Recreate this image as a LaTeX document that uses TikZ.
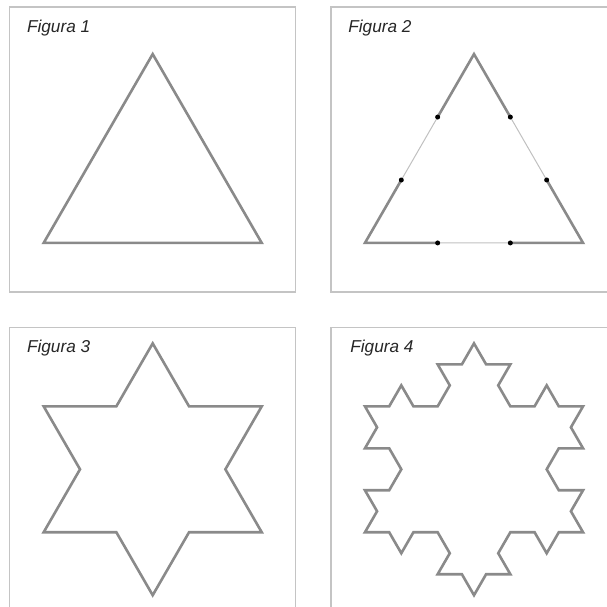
\documentclass[tikz,border=0pt]{standalone}
\usepackage{fontspec}
\setmainfont{Liberation Sans}
\usetikzlibrary{calc}
\definecolor{framegray}{RGB}{196,196,196}
\definecolor{curvegray}{RGB}{138,138,138}
\definecolor{thirdgray}{RGB}{192,192,192}

\begin{document}
\begin{tikzpicture}[x=.5pt,y=.5pt,
  frame/.style={draw=framegray,line width=.8pt},
  curve/.style={draw=curvegray,line width=1.3pt},
  middlethird/.style={draw=thirdgray,line width=.5pt},
  lbl/.style={anchor=base west,inner sep=0pt,font=\fontsize{8.6}{10}\selectfont\itshape,text=black!85}]
  \useasboundingbox (0,0) rectangle (607,607);
  \clip (0,0) rectangle (607,607);

  \begin{scope}[shift={(9.7,600)}]
    \draw[frame] (0,0) rectangle (286,-285);
    \node[lbl] (fig1) at (17,-25.3) {Figura 1};
    \coordinate (c1) at (143,-173);
    \coordinate (a1) at ($(c1)+(210:125.9)$);
    \coordinate (b1) at ($(c1)+(90:125.9)$);
    \coordinate (d1) at ($(c1)+(330:125.9)$);
    \draw[curve] (a1) -- (b1) -- (d1) -- cycle;
  \end{scope}

  \begin{scope}[shift={(331,600)}]
    \draw[frame] (0,0) rectangle (286,-285);
    \node[lbl] (fig2) at (17,-25.3) {Figura 2};
    \coordinate (c2) at (143,-173);
    \coordinate (a2) at ($(c2)+(210:125.9)$);
    \coordinate (b2) at ($(c2)+(90:125.9)$);
    \coordinate (d2) at ($(c2)+(330:125.9)$);
    \coordinate (ab1) at ($(a2)!1/3!(b2)$);
    \coordinate (ab2) at ($(a2)!2/3!(b2)$);
    \coordinate (bd1) at ($(b2)!1/3!(d2)$);
    \coordinate (bd2) at ($(b2)!2/3!(d2)$);
    \coordinate (da1) at ($(d2)!1/3!(a2)$);
    \coordinate (da2) at ($(d2)!2/3!(a2)$);
    \draw[middlethird] (a2) -- (b2) -- (d2) -- cycle;
    \draw[curve] (da2) -- (a2) -- (ab1) (ab2) -- (b2) -- (bd1) (bd2) -- (d2) -- (da1);
    \foreach \p in {ab1,ab2,bd1,bd2,da1,da2}
      \fill (\p) circle (2.5);
  \end{scope}

  \begin{scope}[shift={(9.7,279.7)}]
    \draw[frame] (0,0) rectangle (286,-285);
    \node[lbl] (fig3) at (17,-25.3) {Figura 3};
    \coordinate (c3) at (143,-142);
    \coordinate (a3) at ($(c3)+(210:125.9)$);
    \draw[curve] (a3) \foreach \b in {60,-60,180} {\foreach \a in {0,60,-60,0} {-- ++({\b+\a}:72.69)}} -- cycle;
  \end{scope}

  \begin{scope}[shift={(331,279.7)}]
    \draw[frame] (0,0) rectangle (286,-285);
    \node[lbl] (fig4) at (19,-25.3) {Figura 4};
    \coordinate (c4) at (143,-142);
    \coordinate (a4) at ($(c4)+(210:125.9)$);
    \draw[curve] (a4) \foreach \b in {60,-60,180} {\foreach \a in {0,60,-60,0,60,120,0,60,-60,0,-120,-60,0,60,-60,0} {-- ++({\b+\a}:24.23)}} -- cycle;
  \end{scope}
\end{tikzpicture}
\end{document}
